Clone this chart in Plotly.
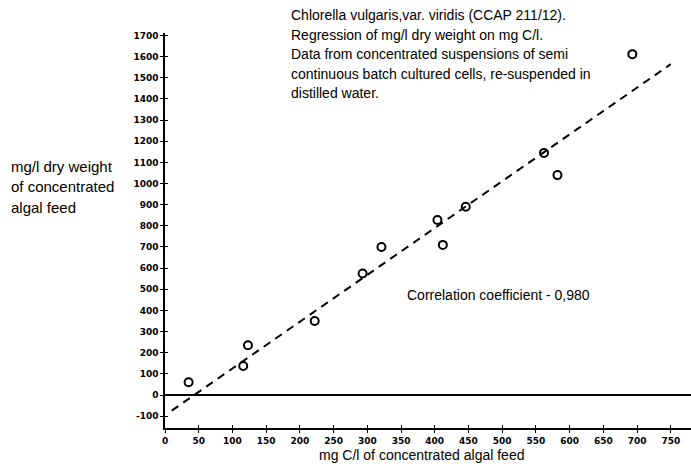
import numpy as np
import plotly.graph_objects as go

# mg C/l of concentrated algal feed vs mg/l dry weight
carbon_mg_l = [35, 116, 123, 222, 293, 321, 404, 412, 446, 562, 582, 693]
dry_weight_mg_l = [60, 137, 235, 350, 575, 700, 828, 710, 890, 1145, 1040, 1612]

# fitted regression line (dry weight on carbon)
reg_slope = 2.214
reg_intercept = -96.0
reg_x_extent = [10, 750]

x_ticks = list(range(0, 751, 50))
y_ticks = list(range(-100, 1701, 100))

X_RANGE = [0, 780]
Y_RANGE = [-156, 1712]

reg_x = np.array(reg_x_extent, dtype=float)
reg_y = reg_slope * reg_x + reg_intercept

tick_font = dict(family="DejaVu Sans", size=9, color="black", weight="bold")
text_font = dict(family="Liberation Sans, Arial, sans-serif", size=14, color="black")

fig = go.Figure()

fig.add_trace(go.Scatter(
    x=reg_x, y=reg_y, mode="lines",
    line=dict(color="black", width=2, dash="8px,6px"),
    hoverinfo="skip", showlegend=False,
))

fig.add_trace(go.Scatter(
    x=carbon_mg_l, y=dry_weight_mg_l, mode="markers",
    marker=dict(symbol="circle-open", size=8, color="black",
                line=dict(color="black", width=2)),
    showlegend=False,
))

# companion axes so tick marks cross the axis lines
fig.add_trace(go.Scatter(x=[None], y=[None], xaxis="x2", yaxis="y2",
                         showlegend=False, hoverinfo="skip"))

fig.update_layout(
    width=691, height=468,
    margin=dict(l=165, r=0, t=33, b=40),
    paper_bgcolor="white", plot_bgcolor="white",
    xaxis=dict(
        range=X_RANGE, tickvals=x_ticks, ticktext=[str(v) for v in x_ticks],
        showgrid=False, zeroline=False, showline=True, linecolor="black",
        linewidth=1.5, ticks="outside", ticklen=3, tickwidth=1.2,
        tickcolor="black", tickfont=tick_font,
    ),
    yaxis=dict(
        range=Y_RANGE, tickvals=y_ticks, ticktext=[str(v) for v in y_ticks],
        showgrid=False, zeroline=True, zerolinecolor="black", zerolinewidth=1.5,
        showline=True, linecolor="black", linewidth=1.5,
        ticks="outside", ticklen=3, tickwidth=1.2, tickcolor="black",
        tickfont=tick_font,
    ),
    xaxis2=dict(
        range=X_RANGE, tickvals=x_ticks, overlaying="x", side="bottom",
        anchor="y2", showticklabels=False, showgrid=False, zeroline=False,
        showline=False, ticks="inside", ticklen=3, tickwidth=1.2,
        tickcolor="black",
    ),
    yaxis2=dict(
        range=Y_RANGE, tickvals=y_ticks, overlaying="y", side="left",
        anchor="x2", showticklabels=False, showgrid=False, zeroline=False,
        showline=False, ticks="inside", ticklen=3, tickwidth=1.2,
        tickcolor="black",
    ),
)

title_lines = [
    "Chlorella vulgaris,var. viridis (CCAP 211/12).",
    "Regression of mg/l dry weight on mg C/l.",
    "Data from concentrated suspensions of semi",
    "continuous batch cultured cells, re-suspended in",
    "distilled water.",
]

PLOT_LEFT, PLOT_W, PLOT_BOTTOM, PLOT_H = 165, 526, 428, 395


def px_x(px):
    return (px - PLOT_LEFT) / PLOT_W


def px_y(py):
    return (PLOT_BOTTOM - py) / PLOT_H


for i, line in enumerate(title_lines):
    fig.add_annotation(
        text=line, xref="paper", yref="paper",
        x=px_x(289), y=px_y(15 + 19.5 * i), xanchor="left", yanchor="middle",
        align="left", showarrow=False, font=text_font,
    )

for i, line in enumerate(["mg/l dry weight", "of concentrated", "algal feed"]):
    fig.add_annotation(
        text=line, xref="paper", yref="paper",
        x=px_x(9), y=px_y(166 + 20.5 * i), xanchor="left", yanchor="middle",
        align="left", showarrow=False, font=dict(text_font, size=15),
    )

fig.add_annotation(
    text="mg C/l of concentrated algal feed",
    xref="paper", yref="paper", x=px_x(421), y=px_y(455),
    xanchor="center", yanchor="middle", showarrow=False, font=text_font,
)

fig.add_annotation(
    text="Correlation coefficient - 0,980",
    xref="paper", yref="paper", x=px_x(405), y=px_y(295),
    xanchor="left", yanchor="middle", showarrow=False, font=text_font,
)

fig.write_html("out.html")
